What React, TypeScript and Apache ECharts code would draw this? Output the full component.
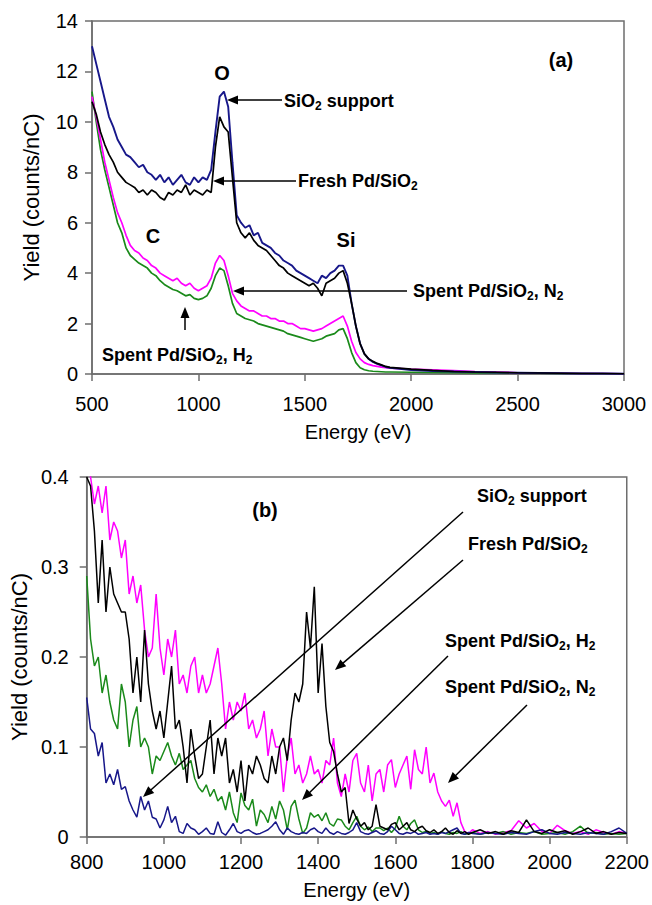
import React, { useEffect, useRef } from "react";
import * as echarts from "echarts";

// ---------- Panel (a) data ----------
const energyA = [
  500, 520, 540, 560, 580, 600, 620, 640, 660, 680,
  700, 720, 740, 760, 780, 800, 820, 840, 860, 880,
  900, 920, 940, 960, 980, 1000, 1020, 1040, 1060, 1080,
  1100, 1120, 1140, 1160, 1180, 1200, 1220, 1240, 1260, 1280,
  1300, 1320, 1340, 1360, 1380, 1400, 1420, 1440, 1460, 1480,
  1500, 1520, 1540, 1560, 1580, 1600, 1620, 1640, 1660, 1680,
  1700, 1720, 1740, 1760, 1780, 1800, 1820, 1840, 1860, 1880,
  1900, 2000, 2100, 2200, 2300, 2400, 2500, 2600, 2700, 2800,
  2900, 3000,
];
const supportA = [
  13.0, 12.3, 11.6, 10.9, 10.2, 9.8, 9.3, 9.0, 8.7, 8.6,
  8.4, 8.2, 8.3, 8.0, 7.9, 7.7, 7.9, 7.6, 7.8, 7.5,
  7.7, 7.9, 7.6, 7.5, 7.8, 7.6, 7.8, 7.7, 8.1, 9.6,
  11.0, 11.2, 10.6, 8.4, 6.3, 6.0, 5.8, 5.9, 5.5, 5.6,
  5.2, 5.1, 5.0, 4.8, 4.7, 4.5, 4.4, 4.3, 4.1, 4.0,
  3.9, 3.8, 3.7, 3.6, 3.9, 3.8, 4.0, 4.1, 4.3, 4.3,
  3.9, 2.8, 1.9, 1.2, 0.8, 0.6, 0.48, 0.4, 0.34, 0.28,
  0.25, 0.16, 0.12, 0.1, 0.08, 0.06, 0.05, 0.04, 0.03, 0.02,
  0.02, 0.01,
];
const freshA = [
  10.8, 10.3, 9.6, 9.1, 8.7, 8.4, 8.0, 7.8, 7.6, 7.5,
  7.4, 7.2, 7.3, 7.1, 7.3, 7.2, 7.0, 6.9, 7.2, 7.1,
  7.3, 7.2, 7.5, 7.1, 7.3, 7.2, 7.1, 7.3, 7.2, 9.0,
  10.2, 9.8, 9.6, 7.8, 6.0, 5.6, 5.4, 5.6, 5.3, 5.1,
  5.0, 4.9, 4.7, 4.5, 4.3, 4.2, 4.0, 3.9, 3.8, 3.7,
  3.6, 3.5, 3.6, 3.4, 3.1, 3.6, 3.7, 3.8, 4.0, 4.1,
  3.6, 2.8, 1.9, 1.2, 0.8, 0.6, 0.5, 0.42, 0.36, 0.3,
  0.26, 0.19, 0.14, 0.1, 0.08, 0.07, 0.05, 0.04, 0.03, 0.02,
  0.02, 0.01,
];
const spentN2A = [
  11.0, 10.2, 9.3, 8.4, 7.7, 7.0, 6.4, 6.0, 5.5, 5.1,
  4.9, 4.8, 4.6, 4.5, 4.3, 4.2, 4.0, 3.9, 3.8, 3.7,
  3.8, 3.6, 3.5, 3.6, 3.4, 3.3, 3.4, 3.5, 3.8, 4.4,
  4.7, 4.5, 3.9, 3.2, 2.9, 2.7, 2.6, 2.5, 2.5, 2.4,
  2.3, 2.3, 2.2, 2.2, 2.1, 2.1, 2.0, 2.0, 1.9, 1.8,
  1.8, 1.75, 1.7, 1.75, 1.8, 1.9, 2.0, 2.1, 2.2, 2.3,
  1.9, 1.3, 0.85, 0.6, 0.45, 0.38, 0.33, 0.3, 0.27, 0.25,
  0.23, 0.19, 0.16, 0.13, 0.1, 0.08, 0.05, 0.04, 0.03, 0.02,
  0.02, 0.01,
];
const spentH2A = [
  11.2, 10.0, 8.9, 8.1, 7.4, 6.7, 6.0, 5.6, 5.0, 4.7,
  4.55, 4.4, 4.3, 4.2, 4.0, 3.9, 3.7, 3.55, 3.45, 3.35,
  3.3, 3.2, 3.1, 3.15, 3.0, 2.95, 3.0, 3.1, 3.4, 3.9,
  4.2, 4.1, 3.5, 2.8, 2.4, 2.3, 2.2, 2.15, 2.1, 2.0,
  1.95, 1.9, 1.85, 1.8, 1.75, 1.7, 1.6, 1.55, 1.5, 1.45,
  1.4, 1.35, 1.3, 1.35, 1.4, 1.5, 1.55, 1.6, 1.75, 1.8,
  1.4, 0.85, 0.45, 0.25, 0.17, 0.13, 0.11, 0.1, 0.09, 0.08,
  0.08, 0.07, 0.06, 0.05, 0.04, 0.04, 0.03, 0.03, 0.02, 0.02,
  0.01, 0.01,
];

// ---------- Panel (b) data ----------
const energyB = [
  800, 810, 820, 830, 840, 850, 860, 870, 880, 890,
  900, 910, 920, 930, 940, 950, 960, 970, 980, 990,
  1000, 1010, 1020, 1030, 1040, 1050, 1060, 1070, 1080, 1090,
  1100, 1110, 1120, 1130, 1140, 1150, 1160, 1170, 1180, 1190,
  1200, 1210, 1220, 1230, 1240, 1250, 1260, 1270, 1280, 1290,
  1300, 1310, 1320, 1330, 1340, 1350, 1360, 1370, 1380, 1390,
  1400, 1410, 1420, 1430, 1440, 1450, 1460, 1470, 1480, 1490,
  1500, 1510, 1520, 1530, 1540, 1550, 1560, 1570, 1580, 1590,
  1600, 1610, 1620, 1630, 1640, 1650, 1660, 1670, 1680, 1690,
  1700, 1710, 1720, 1730, 1740, 1750, 1760, 1770, 1780, 1790,
  1800, 1820, 1840, 1860, 1880, 1900, 1920, 1940, 1960, 1980,
  2000, 2020, 2040, 2060, 2080, 2100, 2120, 2140, 2160, 2180,
  2200,
];
const spentN2B = [
  0.43, 0.40, 0.37, 0.39, 0.36, 0.39, 0.33, 0.35, 0.34, 0.31,
  0.33, 0.27, 0.29, 0.26, 0.28, 0.23, 0.20, 0.21, 0.27, 0.21,
  0.18, 0.22, 0.20, 0.23, 0.17, 0.18, 0.16, 0.19, 0.20, 0.16,
  0.18, 0.16, 0.17, 0.19, 0.21, 0.17, 0.12, 0.15, 0.13, 0.15,
  0.14, 0.16, 0.12, 0.13, 0.11, 0.12, 0.14, 0.09, 0.12, 0.10,
  0.10, 0.05, 0.09, 0.11, 0.07, 0.08, 0.06, 0.07, 0.09, 0.07,
  0.075, 0.06, 0.085, 0.08, 0.11, 0.06, 0.045, 0.07, 0.05, 0.085,
  0.093, 0.06, 0.05, 0.08, 0.04, 0.07, 0.075, 0.05, 0.08, 0.086,
  0.055, 0.07, 0.08, 0.09, 0.053, 0.097, 0.075, 0.07, 0.10, 0.06,
  0.071, 0.05, 0.04, 0.034, 0.041, 0.023, 0.038, 0.016, 0.006, 0.004,
  0.008, 0.004, 0.006, 0.003, 0.005, 0.007, 0.018, 0.01, 0.015, 0.006,
  0.004, 0.013, 0.007, 0.004, 0.006, 0.003, 0.008, 0.005, 0.003, 0.006,
  0.004,
];
const freshB = [
  0.40, 0.39, 0.34, 0.26, 0.33, 0.25, 0.30, 0.27, 0.26, 0.25,
  0.25, 0.22, 0.16, 0.20, 0.15, 0.23, 0.17, 0.14, 0.12, 0.14,
  0.11, 0.15, 0.19, 0.12, 0.13, 0.10, 0.06, 0.12, 0.09, 0.065,
  0.07, 0.10, 0.13, 0.07, 0.11, 0.09, 0.11, 0.06, 0.075, 0.05,
  0.085, 0.04, 0.08, 0.07, 0.09, 0.08, 0.065, 0.06, 0.09, 0.07,
  0.10, 0.11, 0.085, 0.13, 0.16, 0.15, 0.17, 0.25, 0.21, 0.278,
  0.16, 0.215, 0.145, 0.105, 0.095, 0.07, 0.05, 0.055, 0.015, 0.03,
  0.02, 0.012, 0.016, 0.008, 0.012, 0.036, 0.012, 0.01, 0.008, 0.014,
  0.016, 0.008, 0.012, 0.016, 0.008, 0.006, 0.01, 0.012, 0.007, 0.005,
  0.008, 0.004, 0.006, 0.01, 0.005, 0.003, 0.007, 0.004, 0.006, 0.003,
  0.005, 0.008, 0.004, 0.006, 0.003, 0.007, 0.005, 0.019, 0.006, 0.004,
  0.008, 0.005, 0.007, 0.003, 0.006, 0.01, 0.004, 0.006, 0.003, 0.005,
  0.004,
];
const spentH2B = [
  0.29, 0.22, 0.19, 0.20, 0.16, 0.18, 0.15, 0.13, 0.12, 0.17,
  0.15, 0.10, 0.13, 0.145, 0.10, 0.11, 0.10, 0.07, 0.09, 0.085,
  0.095, 0.105, 0.09, 0.08, 0.093, 0.075, 0.08, 0.085, 0.065, 0.055,
  0.05, 0.058, 0.045, 0.053, 0.04, 0.045, 0.03, 0.05, 0.027, 0.016,
  0.049, 0.035, 0.03, 0.042, 0.012, 0.03, 0.025, 0.016, 0.034, 0.02,
  0.04, 0.03, 0.008, 0.034, 0.041, 0.02, 0.004, 0.01, 0.027, 0.022,
  0.025, 0.018, 0.027, 0.015, 0.012, 0.02, 0.019, 0.012, 0.008, 0.016,
  0.023, 0.012, 0.008, 0.011, 0.006, 0.01, 0.01, 0.007, 0.01, 0.005,
  0.01, 0.023, 0.012, 0.008, 0.015, 0.019, 0.008, 0.005, 0.006, 0.004,
  0.005, 0.003, 0.006, 0.004, 0.003, 0.005, 0.004, 0.006, 0.003, 0.004,
  0.005, 0.003, 0.005, 0.004, 0.006, 0.003, 0.005, 0.004, 0.006, 0.003,
  0.004, 0.005, 0.003, 0.006, 0.012, 0.004, 0.005, 0.003, 0.004, 0.003,
  0.004,
];
const supportB = [
  0.155, 0.12, 0.115, 0.09, 0.105, 0.06, 0.07, 0.058, 0.075, 0.053,
  0.056, 0.04, 0.03, 0.022, 0.045, 0.03, 0.04, 0.022, 0.02, 0.01,
  0.019, 0.034, 0.016, 0.023, 0.006, 0.004, 0.015, 0.01, 0.008, 0.003,
  0.006, 0.01, 0.004, 0.003, 0.017, 0.005, 0.002, 0.008, 0.015, 0.006,
  0.004, 0.007, 0.008, 0.005, 0.003, 0.004, 0.006, 0.008, 0.012, 0.017,
  0.008, 0.003, 0.01, 0.006, 0.004, 0.003, 0.005, 0.004, 0.008, 0.01,
  0.006, 0.004, 0.01, 0.005, 0.003, 0.006, 0.004, 0.003, 0.005, 0.008,
  0.016, 0.006, 0.004, 0.003, 0.005, 0.007, 0.004, 0.003, 0.006, 0.012,
  0.008, 0.004, 0.003, 0.005, 0.004, 0.006, 0.003, 0.004, 0.005, 0.003,
  0.004, 0.003, 0.005, 0.004, 0.006, 0.008, 0.01, 0.004, 0.003, 0.005,
  0.004, 0.003, 0.005, 0.004, 0.003, 0.005, 0.004, 0.003, 0.006, 0.008,
  0.004, 0.003, 0.005, 0.004, 0.003, 0.005, 0.004, 0.003, 0.006, 0.01,
  0.004,
];

const FONT = "'Liberation Sans', Arial, Helvetica, sans-serif";
const C_SUPPORT = "#17178a";
const C_FRESH = "#000000";
const C_N2 = "#ff00ff";
const C_H2 = "#1a8a1a";
const AXIS_COLOR = "#6e6e6e";

const pairs = (xs: number[], ys: number[]) => xs.map((x, i) => [x, ys[i]]);

const richStyles = {
  m: { fontSize: 18, fontWeight: "bold", fontFamily: FONT, color: "#000", lineHeight: 20, verticalAlign: "top" },
  s: { fontSize: 12, fontWeight: "bold", fontFamily: FONT, color: "#000", lineHeight: 12, padding: [9, 0, 0, 0], verticalAlign: "bottom" },
};

// parts: text with "_" prefix meaning subscript
function annot(x: number, y: number, parts: string[]) {
  const text = parts
    .map((p) => (p.startsWith("_") ? `{s|${p.slice(1)}}` : `{m|${p}}`))
    .join("");
  return {
    type: "text",
    x,
    y,
    z: 100,
    style: { text, rich: richStyles, align: "left", verticalAlign: "middle" },
  };
}

function bigLabel(x: number, y: number, text: string) {
  return {
    type: "text",
    x,
    y,
    z: 100,
    style: {
      text,
      fontSize: 20,
      fontWeight: "bold",
      fontFamily: FONT,
      fill: "#000",
      align: "center",
      verticalAlign: "middle",
    },
  };
}

function arrow(x1: number, y1: number, x2: number, y2: number) {
  const dx = x2 - x1;
  const dy = y2 - y1;
  const len = Math.hypot(dx, dy);
  const ux = dx / len;
  const uy = dy / len;
  const L = 11;
  const W = 4.5;
  const bx = x2 - ux * L;
  const by = y2 - uy * L;
  return [
    {
      type: "line",
      z: 100,
      shape: { x1, y1, x2: bx + ux * 2, y2: by + uy * 2 },
      style: { stroke: "#000", lineWidth: 1.5 },
    },
    {
      type: "polygon",
      z: 100,
      shape: {
        points: [
          [x2, y2],
          [bx - uy * W, by + ux * W],
          [bx + uy * W, by - ux * W],
        ],
      },
      style: { fill: "#000" },
    },
  ];
}

const plain = (v: number) => String(v);

function valueAxis(extra: any) {
  return {
    type: "value",
    axisLine: { show: true, onZero: false, lineStyle: { color: AXIS_COLOR, width: 1.5 } },
    axisTick: { show: true, inside: false, length: 7, lineStyle: { color: AXIS_COLOR, width: 1.5 } },
    splitLine: { show: false },
    nameLocation: "middle",
    ...extra,
  };
}

export default function App() {
  const ref = useRef<HTMLDivElement>(null);

  useEffect(() => {
    document.body.style.margin = "0";
    if (!ref.current) return;
    const chart = echarts.init(ref.current, undefined, { renderer: "svg" });

    const lineSeries = (name: string, data: number[][], color: string, idx: number, width: number) => ({
      name,
      type: "line",
      data,
      xAxisIndex: idx,
      yAxisIndex: idx,
      showSymbol: false,
      symbol: "none",
      clip: true,
      silent: true,
      lineStyle: { color, width },
      itemStyle: { color },
    });

    const option = {
      animation: false,
      backgroundColor: "#ffffff",
      textStyle: { fontFamily: FONT },
      grid: [
        { left: 92, top: 21, width: 532, height: 353, show: true, borderColor: AXIS_COLOR, borderWidth: 1.5 },
        { left: 86, top: 477, width: 551, height: 360, show: true, borderColor: AXIS_COLOR, borderWidth: 1.5 },
      ],
      xAxis: [
        valueAxis({
          gridIndex: 0,
          min: 500,
          max: 3000,
          interval: 500,
          name: "Energy (eV)",
          nameGap: 48,
          nameTextStyle: { fontSize: 20, color: "#000", fontFamily: FONT },
          axisLabel: { fontSize: 20, color: "#000", margin: 20, fontFamily: FONT, formatter: plain },
        }),
        valueAxis({
          gridIndex: 1,
          min: 800,
          max: 2200,
          interval: 200,
          name: "Energy (eV)",
          nameGap: 43,
          nameTextStyle: { fontSize: 20, color: "#000", fontFamily: FONT },
          axisLabel: { fontSize: 20, color: "#000", margin: 15, fontFamily: FONT, formatter: plain },
        }),
      ],
      yAxis: [
        valueAxis({
          gridIndex: 0,
          min: 0,
          max: 14,
          interval: 2,
          name: "Yield (counts/nC)",
          nameGap: 50,
          nameTextStyle: { fontSize: 22, color: "#000", fontFamily: FONT },
          axisLabel: { fontSize: 20, color: "#000", margin: 14, fontFamily: FONT, formatter: plain },
        }),
        valueAxis({
          gridIndex: 1,
          min: 0,
          max: 0.4,
          interval: 0.1,
          name: "Yield (counts/nC)",
          nameGap: 53,
          nameTextStyle: { fontSize: 22, color: "#000", fontFamily: FONT },
          axisLabel: {
            fontSize: 20,
            color: "#000",
            margin: 18,
            fontFamily: FONT,
            formatter: (v: number) => (v === 0 ? "0" : v.toFixed(1)),
          },
        }),
      ],
      series: [
        lineSeries("Spent Pd/SiO2, H2", pairs(energyA, spentH2A), C_H2, 0, 1.7),
        lineSeries("Spent Pd/SiO2, N2", pairs(energyA, spentN2A), C_N2, 0, 1.7),
        lineSeries("SiO2 support", pairs(energyA, supportA), C_SUPPORT, 0, 1.9),
        lineSeries("Fresh Pd/SiO2", pairs(energyA, freshA), C_FRESH, 0, 1.7),
        lineSeries("Spent Pd/SiO2, N2 (b)", pairs(energyB, spentN2B), C_N2, 1, 1.5),
        lineSeries("Spent Pd/SiO2, H2 (b)", pairs(energyB, spentH2B), C_H2, 1, 1.5),
        lineSeries("SiO2 support (b)", pairs(energyB, supportB), C_SUPPORT, 1, 1.5),
        lineSeries("Fresh Pd/SiO2 (b)", pairs(energyB, freshB), C_FRESH, 1, 1.5),
      ],
      graphic: [
        // panel (a)
        bigLabel(222, 73, "O"),
        bigLabel(153, 236, "C"),
        bigLabel(346, 240, "Si"),
        bigLabel(561, 60, "(a)"),
        annot(284, 102, ["SiO", "_2", " support"]),
        ...arrow(282, 100, 227, 100),
        annot(298, 182, ["Fresh Pd/SiO", "_2"]),
        ...arrow(296, 181, 213, 181),
        annot(413, 292, ["Spent Pd/SiO", "_2", ", N", "_2"]),
        ...arrow(407, 291, 233, 291),
        annot(102, 356, ["Spent Pd/SiO", "_2", ", H", "_2"]),
        ...arrow(185, 330, 185, 307),
        // panel (b)
        bigLabel(265, 510, "(b)"),
        annot(477, 497, ["SiO", "_2", " support"]),
        ...arrow(463, 512, 143, 797),
        annot(468, 545, ["Fresh Pd/SiO", "_2"]),
        ...arrow(463, 560, 335, 670),
        annot(445, 642, ["Spent Pd/SiO", "_2", ", H", "_2"]),
        ...arrow(448, 656, 302, 800),
        annot(445, 688, ["Spent Pd/SiO", "_2", ", N", "_2"]),
        ...arrow(527, 705, 448, 783),
      ],
    };

    chart.setOption(option as any);
    return () => chart.dispose();
  }, []);

  return <div ref={ref} style={{ width: 652, height: 905 }} />;
}
